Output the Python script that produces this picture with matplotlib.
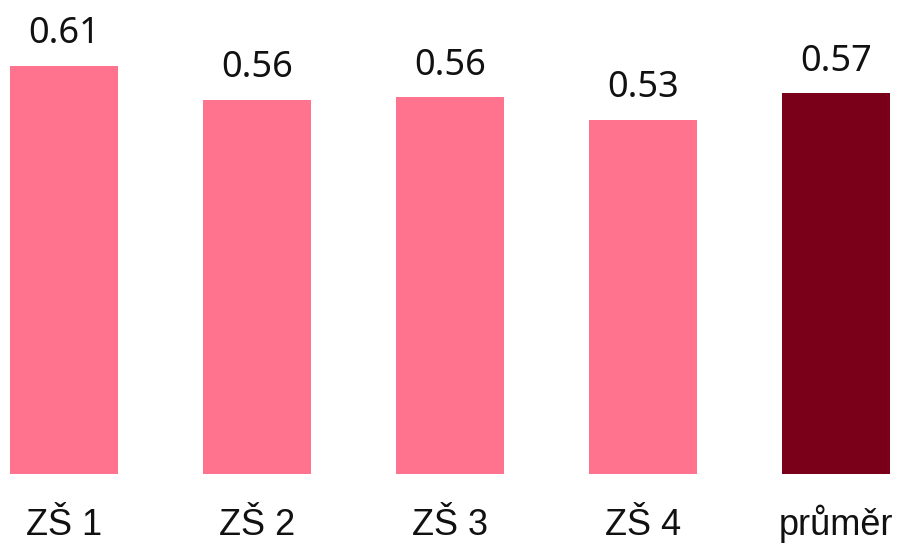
import matplotlib
matplotlib.use("Agg")
import matplotlib.pyplot as plt
import matplotlib.transforms as mtransforms

# values
categories = ["ZŠ 1", "ZŠ 2", "ZŠ 3", "ZŠ 4", "průměr"]
values = [0.610, 0.559, 0.563, 0.529, 0.569]
bar_colors = ["#FF738F", "#FF738F", "#FF738F", "#FF738F", "#7A0019"]


def make_chart():
    fig = plt.figure(figsize=(9.05, 5.44), dpi=100)
    ax = fig.add_axes([0, 70 / 544, 1, 474 / 544])

    x = list(range(len(categories)))
    bars = ax.bar(x, values, width=0.56, color=bar_colors)

    ax.set_xlim(-0.332, 4.357)
    ax.set_ylim(0, 474 / 669)

    # value labels above bars
    for bar, v in zip(bars, values):
        ax.annotate(f"{v:.2f}", (bar.get_x() + bar.get_width() / 2, bar.get_height()),
                    xytext=(0, 16.3), textcoords="offset points",
                    ha="center", va="baseline", fontsize=26, family="Noto Sans", color="#111111")

    # category labels under the bars
    trans = mtransforms.blended_transform_factory(ax.transData, fig.transFigure)
    for xi, cat in zip(x, categories):
        ax.text(xi, 9 / 544, cat, transform=trans, ha="center", va="baseline",
                fontsize=26, family="Liberation Sans", color="#111111", clip_on=False)

    ax.set_xticks([])
    ax.set_yticks([])
    for spine in ax.spines.values():
        spine.set_visible(False)

    fig.savefig("out.png", dpi=100)


if __name__ == "__main__":
    make_chart()
